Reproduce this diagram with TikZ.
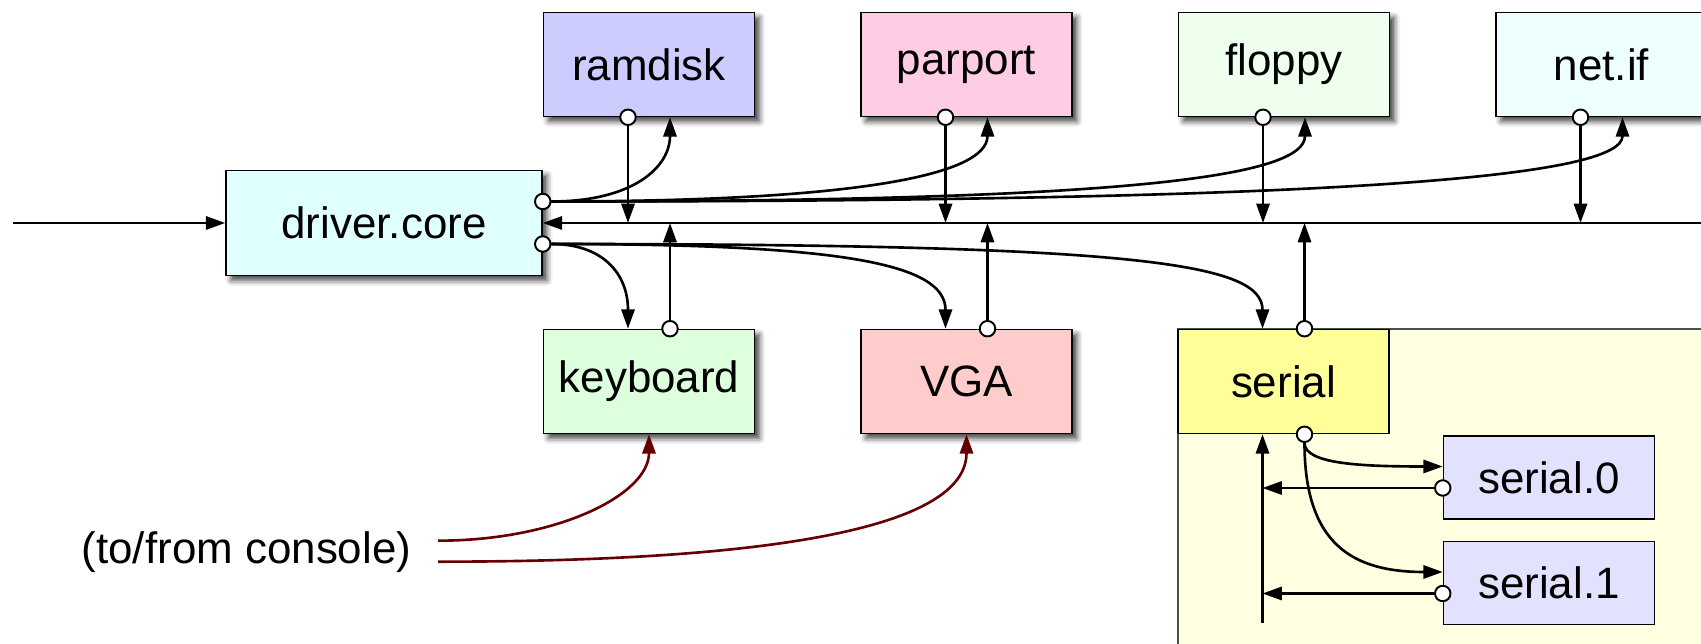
\documentclass[tikz,border=0pt]{standalone}
\usepackage{fontspec}
\setmainfont{Liberation Sans}
\usetikzlibrary{arrows.meta,calc,shadows.blur}

\definecolor{corecyan}{HTML}{E0FFFF}
\definecolor{ramblue}{HTML}{CCCCFF}
\definecolor{parpink}{HTML}{FFCCE6}
\definecolor{floppygreen}{HTML}{EEFFEE}
\definecolor{netcyan}{HTML}{EEFFFF}
\definecolor{kbdgreen}{HTML}{DDFFDD}
\definecolor{vgared}{HTML}{FFCCCC}
\definecolor{serialyellow}{HTML}{FFFF99}
\definecolor{grpyellow}{HTML}{FFFFE2}
\definecolor{portblue}{HTML}{E2E2FF}
\definecolor{consolered}{HTML}{660000}

\begin{document}
\begin{tikzpicture}[
    x=0.02cm, y=0.02cm,
    font=\fontsize{25}{30}\selectfont,
    dev/.style={draw,line width=0.9pt,minimum width=4.22cm,minimum height=2.08cm,inner sep=0pt},
    shade box/.style={blur shadow={shadow xshift=2.8pt,shadow yshift=-2.8pt,shadow blur radius=3.2pt,shadow opacity=75}},
    port/.style={circle,draw,fill=white,line width=1.1pt,inner sep=0pt,minimum size=0.31cm},
    wire/.style={line width=1.5pt,-{Triangle[length=11pt,width=7.5pt]}},
    console wire/.style={wire,draw=consolered,-{Triangle[length=11pt,width=7.5pt,fill=consolered]}},
    ]
  \useasboundingbox (0,0) rectangle (1701,644);

  % area around the serial driver
  \draw[fill=grpyellow,draw=black!70,line width=0.9pt] (1178,315) rectangle (1740,-40);

  \node[dev,minimum width=6.32cm,minimum height=2.1cm,fill=corecyan,shade box] (core) at (384,421) {driver.core};

  \node[dev,fill=ramblue,shade box] (ramdisk) at (649,579.5) {ramdisk};
  \node[dev,fill=parpink,shade box] (parport) at (966.5,579.5) {parport};
  \node[dev,fill=floppygreen,shade box] (floppy) at (1284,579.5) {floppy};
  \node[dev,fill=netcyan,shade box] (netif) at (1601.5,579.5) {net.if};

  \node[dev,fill=kbdgreen,shade box] (kbd) at (649,262.5) {keyboard};
  \node[dev,fill=vgared,shade box] (vga) at (966.5,262.5) {VGA};
  \node[dev,fill=serialyellow] (serial) at (1283.5,262.5) {serial};

  \node[dev,minimum height=1.66cm,fill=portblue] (ser0) at (1549,166.5) {serial.0};
  \node[dev,minimum height=1.66cm,fill=portblue] (ser1) at (1549,61) {serial.1};

  \node[anchor=base] (console) at (246.5,80.7) {(to/from console)};

  % ports and connection points
  \node[port] (core-up) at ($(core.east)+(0,21.5)$) {};
  \node[port] (core-down) at ($(core.east)+(0,-21)$) {};

  \node[port] (ramdisk-o) at ($(ramdisk.south)+(-21,0)$) {};
  \node[port] (parport-o) at ($(parport.south)+(-21,0)$) {};
  \node[port] (floppy-o) at ($(floppy.south)+(-21,0)$) {};
  \node[port] (netif-o) at ($(netif.south)+(-21,0)$) {};
  \coordinate (ramdisk-i) at ($(ramdisk.south)+(21,0)$);
  \coordinate (parport-i) at ($(parport.south)+(21,0)$);
  \coordinate (floppy-i) at ($(floppy.south)+(21,0)$);
  \coordinate (netif-i) at ($(netif.south)+(21,0)$);

  \node[port] (kbd-o) at ($(kbd.north)+(21,0)$) {};
  \node[port] (vga-o) at ($(vga.north)+(21,0)$) {};
  \node[port] (serial-o) at ($(serial.north)+(21,0)$) {};
  \coordinate (kbd-i) at ($(kbd.north)+(-21,0)$);
  \coordinate (vga-i) at ($(vga.north)+(-21,0)$);
  \coordinate (serial-i) at ($(serial.north)+(-21,0)$);

  \node[port] (serial-d) at ($(serial.south)+(21,0)$) {};
  \node[port] (ser0-o) at ($(ser0.west)+(0,-10.5)$) {};
  \node[port] (ser1-o) at ($(ser1.west)+(0,-10.5)$) {};
  \coordinate (ser0-i) at ($(ser0.west)+(0,11)$);
  \coordinate (ser1-i) at ($(ser1.west)+(0,11)$);

  \coordinate (input) at (13,421);
  \coordinate (bus) at (1701,421);
  \coordinate (collect) at (1262.5,21);
  \coordinate (con-kbd) at (438,103.3);
  \coordinate (con-vga) at (438,82.3);

  % the bus
  \draw[wire] (input) -- (core);
  \draw[wire] (bus) -- (core.east);

  \draw[wire] (ramdisk-o) -- (ramdisk-o |- bus);
  \draw[wire] (parport-o) -- (parport-o |- bus);
  \draw[wire] (floppy-o) -- (floppy-o |- bus);
  \draw[wire] (netif-o) -- (netif-o |- bus);

  \draw[wire] (kbd-o) -- (kbd-o |- bus);
  \draw[wire] (vga-o) -- (vga-o |- bus);
  \draw[wire] (serial-o) -- (serial-o |- bus);

  % requests from the core
  \draw[wire] (core-up) .. controls +(90,0) and +(0,-50) .. (ramdisk-i);
  \draw[wire] (core-up) .. controls +(300,0) and +(0,-60) .. (parport-i);
  \draw[wire] (core-up) .. controls +(580,0) and +(0,-60) .. (floppy-i);
  \draw[wire] (core-up) .. controls +(800,0) and +(0,-60) .. (netif-i);

  \draw[wire] (core-down) .. controls +(60,0) and +(0,55) .. (kbd-i);
  \draw[wire] (core-down) .. controls +(300,0) and +(0,65) .. (vga-i);
  \draw[wire] (core-down) .. controls +(600,0) and +(0,65) .. (serial-i);

  % serial ports
  \draw[wire] (serial-d) .. controls +(0,-30) and +(-80,0) .. (ser0-i);
  \draw[wire] (serial-d) .. controls +(0,-110) and +(-90,0) .. (ser1-i);
  \draw[wire] (ser0-o) -- (ser0-o -| collect);
  \draw[wire] (ser1-o) -- (ser1-o -| collect);
  \draw[wire] (collect) -- (collect |- serial.south);

  % console
  \draw[console wire] (con-kbd) .. controls +(120,0) and +(0,-60) .. (kbd.south);
  \draw[console wire] (con-vga) .. controls +(300,0) and +(0,-100) .. (vga.south);
\end{tikzpicture}
\end{document}
